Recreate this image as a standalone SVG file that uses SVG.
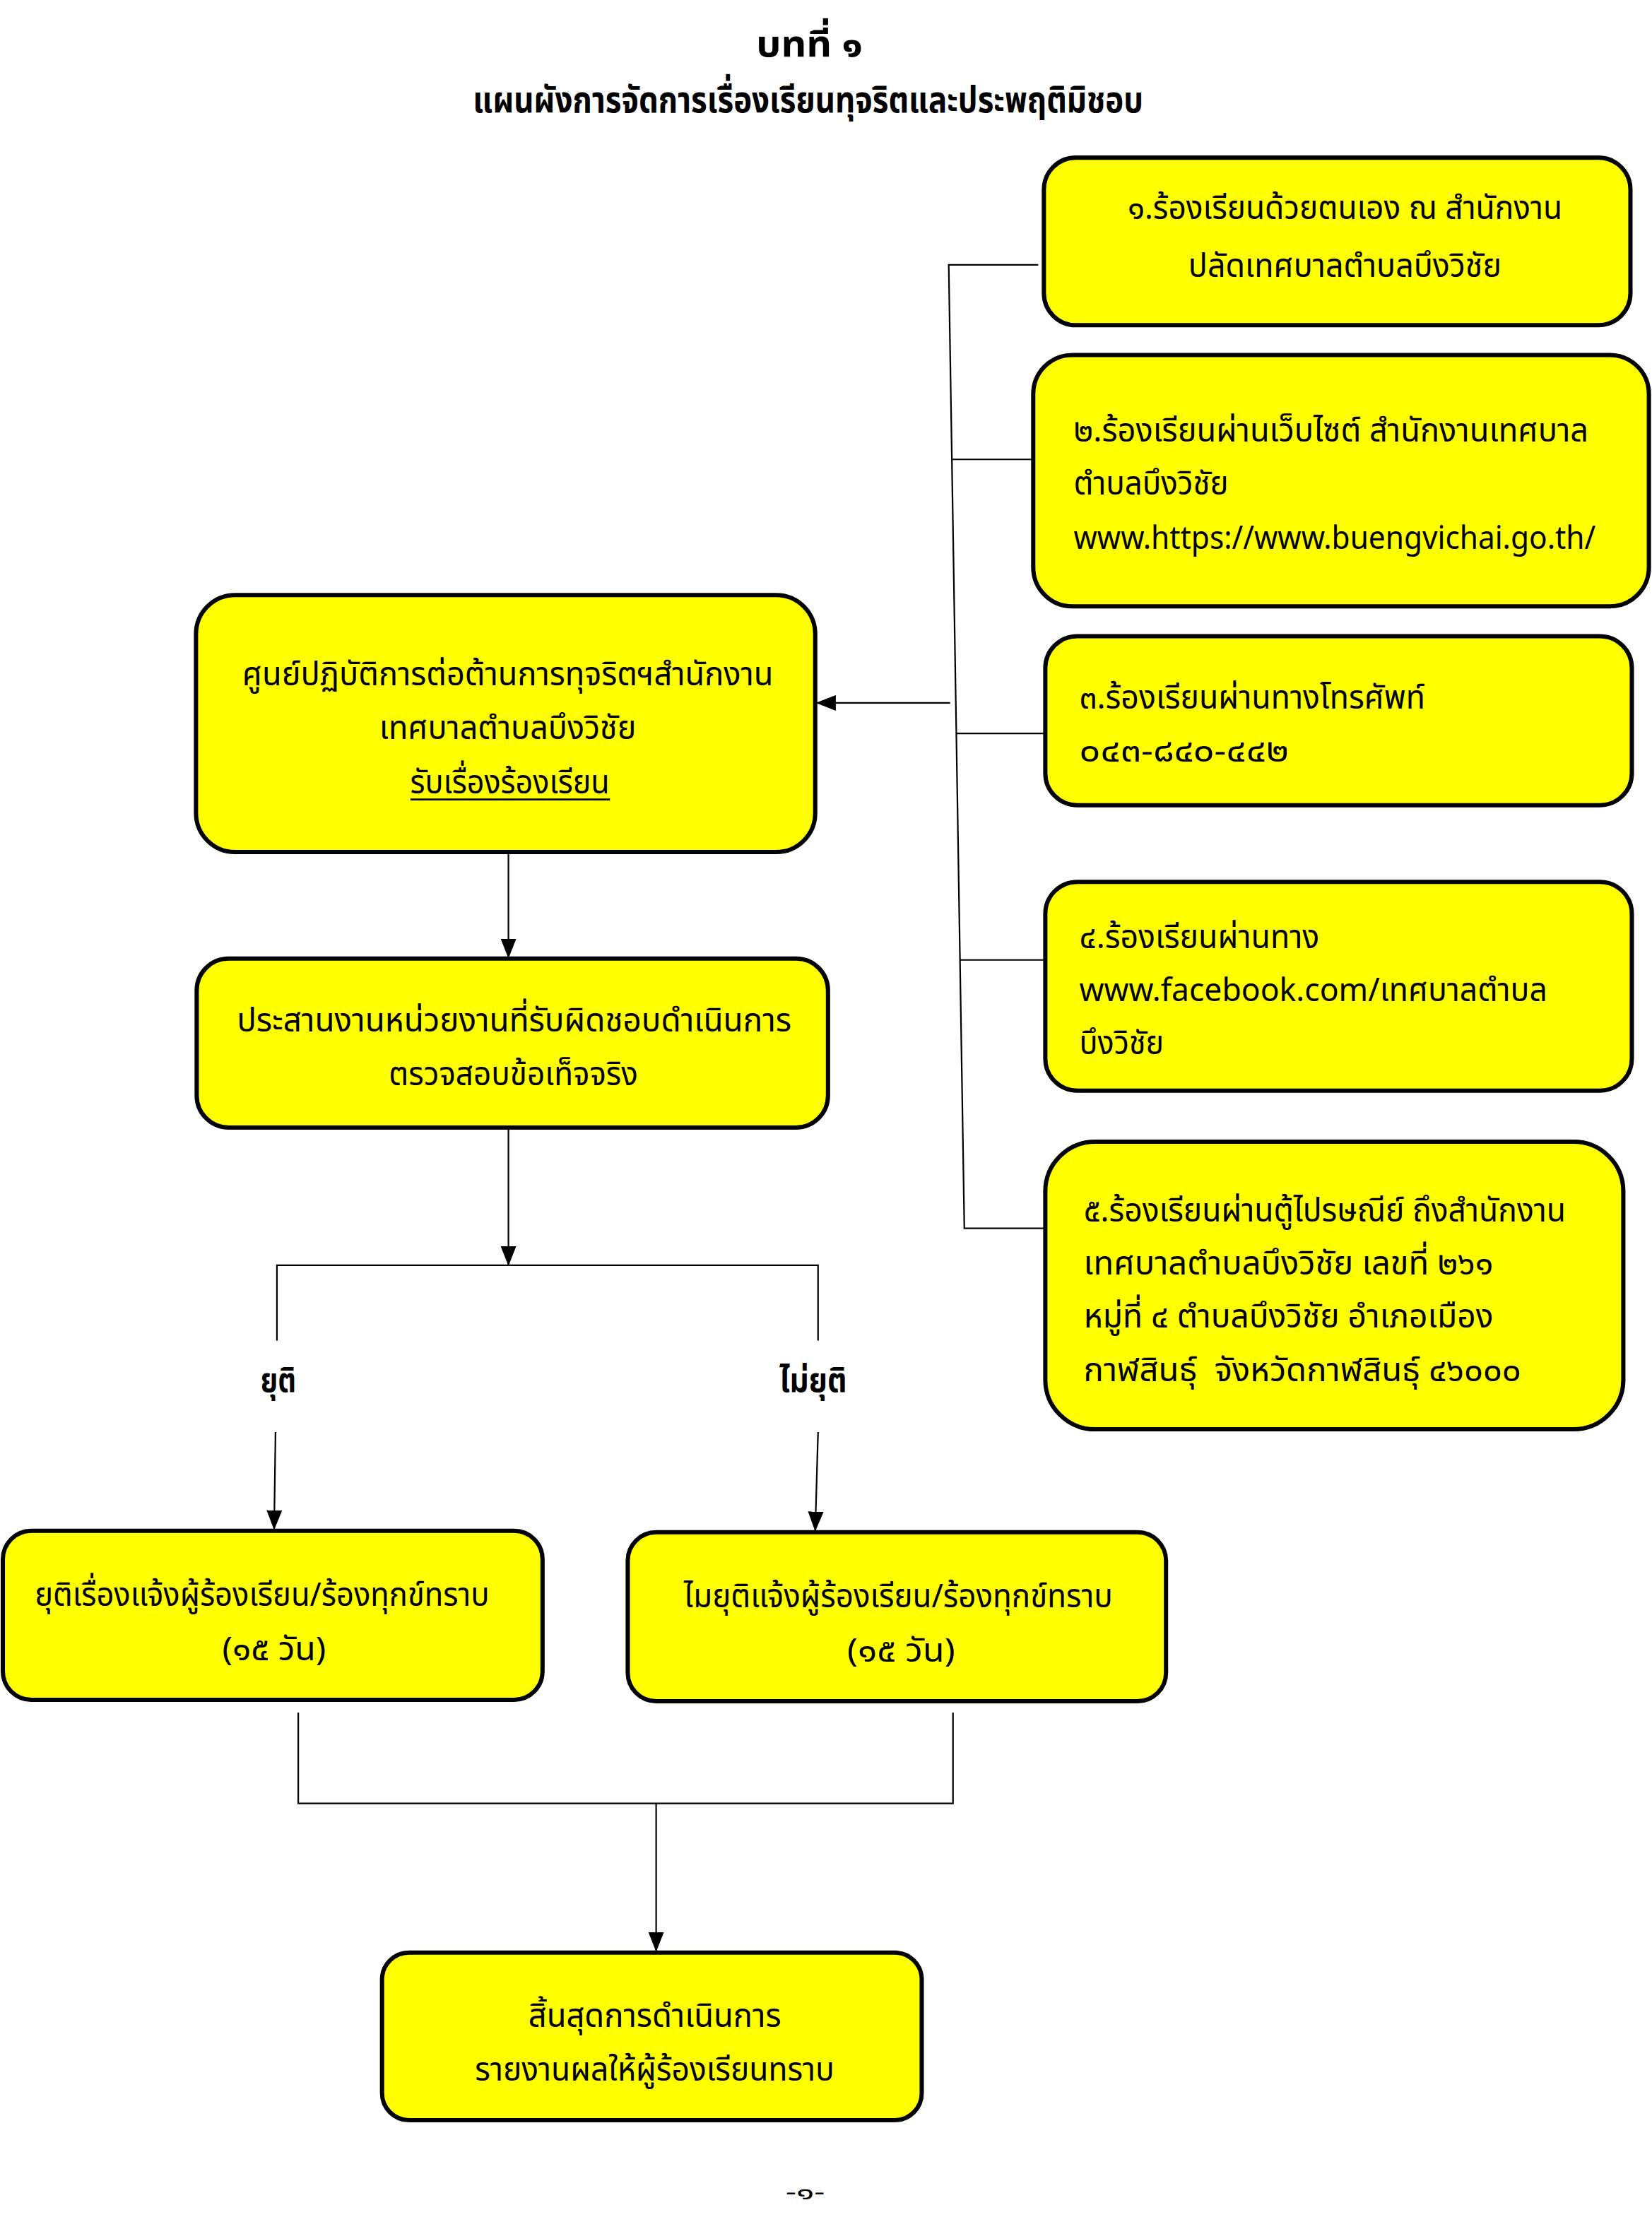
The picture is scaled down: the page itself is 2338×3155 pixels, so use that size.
<svg xmlns="http://www.w3.org/2000/svg" width="2338" height="3155" viewBox="0 0 2338 3155">
<style>
.bg{fill:#ffffff}
.box{fill:#ffff00;stroke:#000;stroke-width:6}
.t{font-family:'Noto Sans Thai','Noto Sans Thai UI','Noto Looped Thai','Noto Sans','DejaVu Sans',sans-serif;font-size:46px;fill:#000}
.c{text-anchor:middle}
.title{font-family:'Noto Sans Thai','Noto Sans Thai UI','Noto Sans','DejaVu Sans',sans-serif;font-size:52px;font-weight:bold;fill:#000;text-anchor:middle}
.lbl{font-family:'Noto Sans Thai','Noto Sans Thai UI','Noto Sans','DejaVu Sans',sans-serif;font-size:48px;font-weight:bold;fill:#000;text-anchor:middle}
.ln{fill:none;stroke:#000;stroke-width:2.2}
.ar{fill:none;stroke:#000;stroke-width:2.2;marker-end:url(#ah)}
</style>
<defs>
<marker id="ah" markerUnits="userSpaceOnUse" markerWidth="28" markerHeight="22" refX="27" refY="11" orient="auto">
<path d="M0,0 L28,11 L0,22 Z" fill="#000"/>
</marker>
</defs>
<rect class="bg" x="0" y="0" width="2338" height="3155"/>
<g id="page" transform="scale(1.005)">

<g id="title">
<text class="title" x="1140" y="80" textLength="150" lengthAdjust="spacingAndGlyphs">บทที่ ๑</text>
<text class="title" x="1138" y="158" textLength="944" lengthAdjust="spacingAndGlyphs">แผนผังการจัดการเรื่องเรียนทุจริตและประพฤติมิชอบ</text>
</g>

<g id="connectors">
<path class="ln" d="M1462,373 H1336 L1358,1730 H1474"/>
<line class="ln" x1="1340" y1="647" x2="1455" y2="647"/>
<line class="ln" x1="1347" y1="1033" x2="1472" y2="1033"/>
<line class="ln" x1="1352" y1="1352" x2="1472" y2="1352"/>
<line class="ar" x1="1338" y1="990" x2="1150" y2="990"/>
<line class="ar" x1="716" y1="1200" x2="716" y2="1349"/>
<line class="ar" x1="716" y1="1588" x2="716" y2="1782"/>
<path class="ln" d="M390,1888 V1782 H1152 V1888"/>
<line class="ar" x1="388" y1="2017" x2="386" y2="2154"/>
<line class="ar" x1="1152" y1="2017" x2="1148" y2="2156"/>
<path class="ln" d="M420,2412 V2540 H1342 V2412"/>
<line class="ar" x1="924" y1="2540" x2="924" y2="2748"/>
</g>

<g id="label-yuti"><text class="lbl" x="392" y="1960" textLength="50" lengthAdjust="spacingAndGlyphs">ยุติ</text></g>
<g id="label-maiyuti"><text class="lbl" x="1145" y="1960" textLength="95" lengthAdjust="spacingAndGlyphs">ไม่ยุติ</text></g>

<g id="node-ch1">
<rect class="box" x="1470" y="222" width="826" height="236" rx="45"/>
<text class="t c" x="1894" y="308" textLength="612" lengthAdjust="spacingAndGlyphs">๑.ร้องเรียนด้วยตนเอง ณ สำนักงาน</text>
<text class="t c" x="1894" y="390" textLength="441" lengthAdjust="spacingAndGlyphs">ปลัดเทศบาลตำบลบึงวิชัย</text>
</g>

<g id="node-ch2">
<rect class="box" x="1455" y="500" width="867" height="354" rx="55"/>
<text class="t" x="1512" y="622" textLength="725" lengthAdjust="spacingAndGlyphs">๒.ร้องเรียนผ่านเว็บไซต์ สำนักงานเทศบาล</text>
<text class="t" x="1512" y="697" textLength="218" lengthAdjust="spacingAndGlyphs">ตำบลบึงวิชัย</text>
<text class="t" x="1512" y="773" textLength="735" lengthAdjust="spacingAndGlyphs">www.https://www.buengvichai.go.th/</text>
</g>

<g id="node-ch3">
<rect class="box" x="1472" y="896" width="826" height="238" rx="45"/>
<text class="t" x="1520" y="998" textLength="487" lengthAdjust="spacingAndGlyphs">๓.ร้องเรียนผ่านทางโทรศัพท์</text>
<text class="t" x="1520" y="1073" textLength="295" lengthAdjust="spacingAndGlyphs">๐๔๓-๘๔๐-๔๔๒</text>
</g>

<g id="node-ch4">
<rect class="box" x="1472" y="1242" width="826" height="294" rx="45"/>
<text class="t" x="1520" y="1335" textLength="338" lengthAdjust="spacingAndGlyphs">๔.ร้องเรียนผ่านทาง</text>
<text class="t" x="1520" y="1410" textLength="659" lengthAdjust="spacingAndGlyphs">www.facebook.com/เทศบาลตำบล</text>
<text class="t" x="1520" y="1485" textLength="119" lengthAdjust="spacingAndGlyphs">บึงวิชัย</text>
</g>

<g id="node-ch5">
<rect class="box" x="1472" y="1608" width="814" height="405" rx="70"/>
<text class="t" x="1526" y="1720" textLength="679" lengthAdjust="spacingAndGlyphs">๕.ร้องเรียนผ่านตู้ไปรษณีย์ ถึงสำนักงาน</text>
<text class="t" x="1526" y="1795" textLength="577" lengthAdjust="spacingAndGlyphs">เทศบาลตำบลบึงวิชัย เลขที่ ๒๖๑</text>
<text class="t" x="1526" y="1870" textLength="577" lengthAdjust="spacingAndGlyphs">หมู่ที่ ๔ ตำบลบึงวิชัย อำเภอเมือง</text>
<text class="t" x="1526" y="1945" textLength="616" lengthAdjust="spacingAndGlyphs" xml:space="preserve">กาฬสินธุ์  จังหวัดกาฬสินธุ์ ๔๖๐๐๐</text>
</g>

<g id="node-center">
<rect class="box" x="276" y="838" width="872" height="362" rx="55"/>
<text class="t c" x="715" y="965" textLength="748" lengthAdjust="spacingAndGlyphs">ศูนย์ปฏิบัติการต่อต้านการทุจริตฯสำนักงาน</text>
<text class="t c" x="715" y="1041" textLength="362" lengthAdjust="spacingAndGlyphs">เทศบาลตำบลบึงวิชัย</text>
<text class="t c" x="718" y="1117" textLength="281" lengthAdjust="spacingAndGlyphs">รับเรื่องร้องเรียน</text>
<line x1="578" y1="1126" x2="859" y2="1126" stroke="#000" stroke-width="2.5"/>
</g>

<g id="node-coordinate">
<rect class="box" x="277" y="1350" width="889" height="238" rx="45"/>
<text class="t c" x="724" y="1453" textLength="781" lengthAdjust="spacingAndGlyphs">ประสานงานหน่วยงานที่รับผิดชอบดำเนินการ</text>
<text class="t c" x="723" y="1528" textLength="351" lengthAdjust="spacingAndGlyphs">ตรวจสอบข้อเท็จจริง</text>
</g>

<g id="node-yuti">
<rect class="box" x="4" y="2156" width="760" height="238" rx="40"/>
<text class="t c" x="369" y="2262" textLength="640" lengthAdjust="spacingAndGlyphs">ยุติเรื่องแจ้งผู้ร้องเรียน/ร้องทุกข์ทราบ</text>
<text class="t c" x="386" y="2338" textLength="146" lengthAdjust="spacingAndGlyphs">(๑๕ วัน)</text>
</g>

<g id="node-maiyuti">
<rect class="box" x="884" y="2158" width="758" height="238" rx="40"/>
<text class="t c" x="1265" y="2264" textLength="604" lengthAdjust="spacingAndGlyphs">ไมยุติแจ้งผู้ร้องเรียน/ร้องทุกข์ทราบ</text>
<text class="t c" x="1269" y="2340" textLength="152" lengthAdjust="spacingAndGlyphs">(๑๕ วัน)</text>
</g>

<g id="node-end">
<rect class="box" x="538" y="2750" width="760" height="236" rx="38"/>
<text class="t c" x="922" y="2855" textLength="356" lengthAdjust="spacingAndGlyphs">สิ้นสุดการดำเนินการ</text>
<text class="t c" x="922" y="2930" textLength="506" lengthAdjust="spacingAndGlyphs">รายงานผลให้ผู้ร้องเรียนทราบ</text>
</g>

<g id="page-number">
<text class="t c" x="1134" y="3098" style="font-size:30px" textLength="55" lengthAdjust="spacingAndGlyphs">-๑-</text>
</g>
</g>
</svg>
